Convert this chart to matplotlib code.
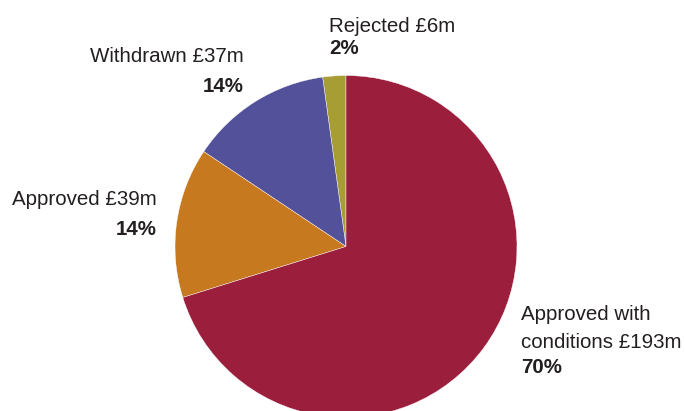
import matplotlib
matplotlib.use("Agg")
import matplotlib.pyplot as plt

# Outcome of applications, by value
categories = ["Rejected", "Withdrawn", "Approved", "Approved with\nconditions"]
values_m = [6, 37, 39, 193]
shares_pct = [2, 14, 14, 70]
colors = ["#A69E35", "#53519A", "#C6791F", "#9B1F3D"]

W, H = 686, 411
fig = plt.figure(figsize=(W / 100, H / 100), dpi=100)
ax = fig.add_axes([0, 0, 1, 1])

# pie centre and radius in pixels
cx, cy, r = 346, 246.5, 171

ax.pie(values_m, colors=colors, startangle=90, counterclock=True,
       radius=1, center=(0, 0), frame=True,
       wedgeprops=dict(linewidth=0.3, edgecolor="white"))
ax.set_xlim(-cx / r, (W - cx) / r)
ax.set_ylim((cy - H) / r, cy / r)
ax.set_aspect("auto")
ax.axis("off")

font = "Liberation Sans"
txt_col = "#231F20"
fs = 14.8


def put(px, py, s, ha="left", bold=False):
    fig.text(px / W, 1 - py / H, s, ha=ha, va="baseline", fontsize=fs,
             family=font, color=txt_col,
             fontweight="bold" if bold else "normal")


# Rejected
put(329, 32, f"{categories[0]} £{values_m[0]}m")
put(329, 54, f"{shares_pct[0]}%", bold=True)
# Withdrawn
put(244, 62, f"{categories[1]} £{values_m[1]}m", ha="right")
put(244, 92, f"{shares_pct[1]}%", ha="right", bold=True)
# Approved
put(157, 205, f"{categories[2]} £{values_m[2]}m", ha="right")
put(157, 235, f"{shares_pct[2]}%", ha="right", bold=True)
# Approved with conditions
l1, l2 = categories[3].split("\n")
put(521, 320, l1)
put(521, 348, f"{l2} £{values_m[3]}m")
put(521, 373, f"{shares_pct[3]}%", bold=True)

fig.savefig("out.png", dpi=100)
